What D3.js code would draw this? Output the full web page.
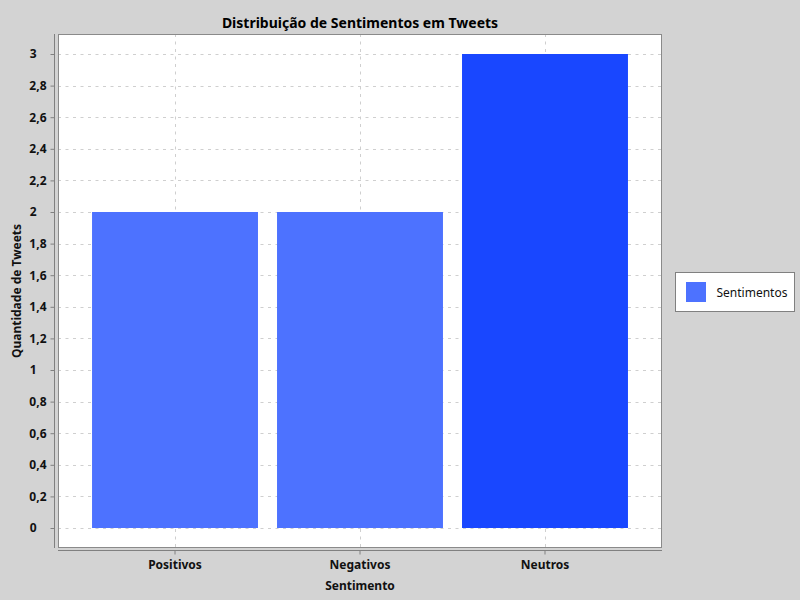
<!DOCTYPE html>
<html>
<head>
<meta charset="utf-8">
<script src="https://cdn.jsdelivr.net/npm/d3@7"></script>
<style>
  body { margin: 0; background: #d3d3d3; }
  svg { display: block; font-family: "Noto Sans", sans-serif; }
</style>
</head>
<body>
<svg width="800" height="600"></svg>
<script>
const categories = ["Positivos", "Negativos", "Neutros"];
const values = [2, 2, 3];
const barColors = ["#4d72ff", "#4d72ff", "#1947ff"];
const yTicks = [0, 0.2, 0.4, 0.6, 0.8, 1, 1.2, 1.4, 1.6, 1.8, 2, 2.2, 2.4, 2.6, 2.8, 3];

const titleText = "Distribuição de Sentimentos em Tweets";
const xTitle = "Sentimento";
const yTitle = "Quantidade de Tweets";
const seriesName = "Sentimentos";

const svg = d3.select("svg");
const width = +svg.attr("width");
const height = +svg.attr("height");

svg.append("rect")
    .attr("width", width)
    .attr("height", height)
    .attr("fill", "#d3d3d3");

const plot = { left: 58, top: 34, right: 662, bottom: 548 };

const x = d3.scaleBand()
    .domain(categories)
    .range([plot.left, plot.right])
    .paddingInner(0.103)
    .paddingOuter(0.184);

const y = d3.scaleLinear()
    .domain([0, 3])
    .range([528, 54]);

// plot background
svg.append("rect")
    .attr("x", plot.left)
    .attr("y", plot.top)
    .attr("width", plot.right - plot.left)
    .attr("height", plot.bottom - plot.top)
    .attr("fill", "#ffffff");

// gridlines
const grid = svg.append("g")
    .attr("stroke", "#cfcfcf")
    .attr("stroke-dasharray", "3,4.5")
    .attr("stroke-width", 1);

grid.selectAll("line.h").data(yTicks)
  .enter().append("line")
    .attr("class", "h")
    .attr("x1", plot.left)
    .attr("x2", plot.right)
    .attr("y1", d => Math.round(y(d)) + 0.5)
    .attr("y2", d => Math.round(y(d)) + 0.5);

grid.selectAll("line.v").data(categories)
  .enter().append("line")
    .attr("class", "v")
    .attr("y1", plot.top)
    .attr("y2", plot.bottom)
    .attr("x1", d => Math.round(x(d) + x.bandwidth() / 2) + 0.5)
    .attr("x2", d => Math.round(x(d) + x.bandwidth() / 2) + 0.5);

// bars
svg.append("g").selectAll("rect").data(values)
  .enter().append("rect")
    .attr("x", (d, i) => x(categories[i]))
    .attr("y", d => y(d))
    .attr("width", x.bandwidth())
    .attr("height", d => y(0) - y(d))
    .attr("fill", (d, i) => barColors[i]);

// plot outline
svg.append("rect")
    .attr("x", plot.left + 0.5)
    .attr("y", plot.top + 0.5)
    .attr("width", plot.right - plot.left - 1)
    .attr("height", plot.bottom - plot.top - 1)
    .attr("fill", "none")
    .attr("stroke", "#8a8a8a")
    .attr("stroke-width", 1);

// y axis
const yAxis = d3.axisLeft(y)
    .tickValues(yTicks)
    .tickSize(4)
    .tickPadding(4)
    .tickFormat(d => d3.format("~g")(d).replace(".", ","));

const yG = svg.append("g")
    .attr("transform", "translate(54.5,0)")
    .call(yAxis);
yG.select(".domain").attr("d", `M0,${plot.top}V${plot.bottom}`).attr("stroke", "#808080");
yG.selectAll(".tick line").attr("stroke", "#808080");
// integer labels sit further left in the original
yG.selectAll(".tick text")
    .attr("x", d => Number.isInteger(d) ? -18 : -8)
    .attr("font-family", "Noto Sans")
    .attr("font-size", 12)
    .attr("font-weight", "bold")
    .attr("fill", "#111");

// x axis
const xAxis = d3.axisBottom(x)
    .tickSize(4)
    .tickPadding(6);

const xG = svg.append("g")
    .attr("transform", "translate(0,550.5)")
    .call(xAxis);
xG.select(".domain").attr("d", `M${plot.left},0H${plot.right}`).attr("stroke", "#808080");
xG.selectAll(".tick line").attr("stroke", "#808080");
xG.selectAll(".tick text")
    .attr("font-family", "Noto Sans")
    .attr("font-size", 12)
    .attr("font-weight", "bold")
    .attr("fill", "#111");

// titles
svg.append("text")
    .attr("x", (plot.left + plot.right) / 2)
    .attr("y", 28)
    .attr("text-anchor", "middle")
    .attr("font-size", 14)
    .attr("font-weight", "bold")
    .attr("fill", "#000")
    .text(titleText);

svg.append("text")
    .attr("x", (plot.left + plot.right) / 2)
    .attr("y", 590)
    .attr("text-anchor", "middle")
    .attr("font-size", 12)
    .attr("font-weight", "bold")
    .attr("fill", "#111")
    .text(xTitle);

svg.append("text")
    .attr("transform", `translate(21,${(plot.top + plot.bottom) / 2}) rotate(-90)`)
    .attr("text-anchor", "middle")
    .attr("font-size", 12)
    .attr("font-weight", "bold")
    .attr("fill", "#111")
    .text(yTitle);

// legend
const legend = svg.append("g").attr("transform", "translate(675.5,272.5)");
legend.append("rect")
    .attr("width", 119)
    .attr("height", 39)
    .attr("fill", "#fff")
    .attr("stroke", "#808080");
legend.append("rect")
    .attr("x", 10.5)
    .attr("y", 9.5)
    .attr("width", 20)
    .attr("height", 20)
    .attr("fill", barColors[0]);
legend.append("text")
    .attr("x", 41)
    .attr("y", 24)
    .attr("font-size", 12)
    .attr("fill", "#111")
    .text(seriesName);
</script>
</body>
</html>
